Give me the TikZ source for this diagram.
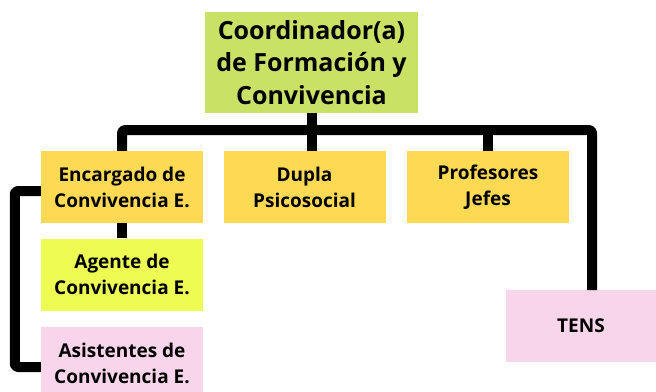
\documentclass[tikz,border=0pt]{standalone}
\usepackage{fontspec}
\setmainfont{Open Sans}
\definecolor{verde}{HTML}{C9E265}
\definecolor{amarillo}{HTML}{FDD954}
\definecolor{lima}{HTML}{EEFB52}
\definecolor{rosa}{HTML}{F8D5EA}
\tikzset{
  caja/.style={minimum width=162pt, minimum height=72pt, align=center, inner sep=0pt},
  linea/.style={line width=10pt, rounded corners=3pt}
}
\begin{document}
\begin{tikzpicture}[x=1pt, y=-1pt, line join=round, font=\bfseries\fontsize{19}{26}\selectfont]
  \useasboundingbox (0,0) rectangle (656,391);
  \def\ybar{130}
  % cajas
  \node[caja, fill=verde, minimum width=213pt, minimum height=101pt,
        font=\bfseries\fontsize{25}{32.5}\selectfont] (coord) at (311.5,62.5) {Coordinador(a)\\de Formación y\\Convivencia};
  \node[caja, fill=amarillo] (enc) at (122,187) {Encargado de\\Convivencia E.};
  \node[caja, fill=amarillo] (dupla) at (304.5,187) {Dupla\\Psicosocial};
  \node[caja, fill=amarillo] (prof) at (488,187) {Profesores\\Jefes};
  \node[caja, fill=lima] (agente) at (122,274.5) {Agente de\\Convivencia E.};
  \node[caja, fill=rosa] (asist) at (122,363) {Asistentes de\\Convivencia E.};
  \node[caja, fill=rosa, minimum width=150pt] (tens) at (581,326) {TENS};
  % conectores
  \coordinate (tensin) at (592,290);
  \draw[linea] (enc.north) -- (enc.north |- 0,\ybar) -- (tensin |- 0,\ybar) -- (tensin);
  \draw[linea] (coord.south) -- (coord.south |- dupla.north);
  \draw[linea] (prof.north |- 0,\ybar) -- (prof.north);
  \draw[linea] (enc.south) -- (agente.north);
  \draw[linea] ([yshift=-4pt]enc.west) -- ++(-26,0) |- ([yshift=-4pt]asist.west);
\end{tikzpicture}
\end{document}
